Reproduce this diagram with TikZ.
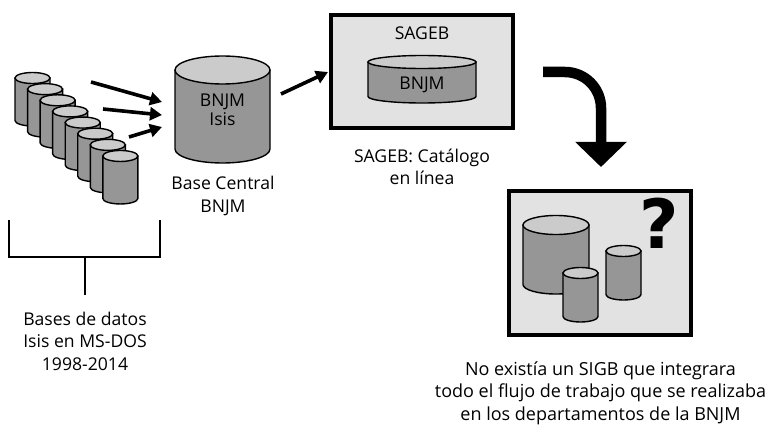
\documentclass[tikz,border=0pt]{standalone}
\usepackage{fontspec}
\setmainfont{Open Sans}
\newfontfamily\heavyfont{DejaVu Sans}[BoldFont={DejaVu Sans Bold}]
\usepackage{tikz}
\usetikzlibrary{arrows.meta}
\definecolor{CylBody}{HTML}{969696}
\definecolor{CylTop}{HTML}{CBCBCB}
\definecolor{BoxGray}{HTML}{E2E2E2}
% #1 gauche, #2 droite, #3 centre de l'ellipse du haut, #4 bas, #5 rayon vertical
\newcommand{\dbcyl}[5]{%
  \draw[cylline, fill=CylBody] (#1,#3) -- (#1,#4-#5) arc[start angle=180, end angle=360, x radius={(#2-#1)/2}, y radius=-#5] -- (#2,#3) -- cycle;
  \draw[cylline, fill=CylTop] ({(#1+#2)/2},#3) ellipse[x radius={(#2-#1)/2}, y radius=#5];
}
\begin{document}
\begin{tikzpicture}[x=1pt, y=-1pt,
    cylline/.style={draw=black, line width=1.4pt},
    framebox/.style={draw=black, line width=4pt, fill=BoxGray},
    txt/.style={font=\fontsize{17.6}{22.5}\selectfont, align=center, text=black, inner sep=0pt},
    feedarrow/.style={line width=3.6pt, -{Triangle[width=13pt, length=12pt]}},
    bracketline/.style={line width=1.3pt}]
  \useasboundingbox (0,0) rectangle (768,425);

  % Bases pequenas
  \foreach \i in {0,...,7} {
    \pgfmathsetmacro{\xl}{15+12.55*\i}
    \pgfmathsetmacro{\xr}{\xl+35}
    \pgfmathsetmacro{\yt}{78+11.14*\i}
    \pgfmathsetmacro{\yb}{\yt+48}
    \dbcyl{\xl}{\xr}{\yt}{\yb}{5.5}
  }

  % Base central
  \dbcyl{175}{270}{70}{163}{14}
  \node[txt, font=\fontsize{17.6}{19.5}\selectfont] (central) at (222.5,110) {BNJM\\Isis};
  \node[txt] (centrallabel) at (223,196) {Base Central\\BNJM};

  % Flechas hacia la base central
  \coordinate (from1) at (91,82);
  \coordinate (to1) at (162,102);
  \coordinate (from2) at (103,109);
  \coordinate (to2) at (162,115);
  \coordinate (from3) at (129,137);
  \coordinate (to3) at (162,127);
  \coordinate (from4) at (281,94);
  \coordinate (to4) at (328,72);
  \draw[feedarrow] (from1) -- (to1);
  \draw[feedarrow] (from2) -- (to2);
  \draw[feedarrow] (from3) -- (to3);
  \draw[feedarrow] (from4) -- (to4);

  % SAGEB
  \draw[framebox] (331,15) rectangle (513,128);
  \node[txt] (sageb) at (422,33) {SAGEB};
  \dbcyl{368}{476}{62}{103}{6.5}
  \node[txt] (bnjm) at (422,85) {BNJM};
  \node[txt] (sageblabel) at (422,167) {SAGEB: Catálogo\\en línea};

  % Flecha grande
  \coordinate (bendstart) at (543,72);
  \coordinate (bendcorner) at (601,72);
  \coordinate (bendend) at (601,167);
  \draw[line width=10.5pt, rounded corners=36pt, -{Triangle[width=50pt, length=25pt]}] (bendstart) -- (bendcorner) -- (bendend);

  % Caja inferior
  \draw[framebox] (509,191) rectangle (691,335);
  \dbcyl{523}{589}{225}{294}{9.5}
  \dbcyl{563}{598}{273}{322}{5.5}
  \dbcyl{606}{641}{251}{300}{5.5}
  \node[inner sep=0pt, font=\heavyfont\fontsize{68}{68}\selectfont\bfseries] (question) at (659.5,223) {?};
  \node[txt, font=\fontsize{18}{22.5}\selectfont] (bottomlabel) at (600.5,393) {No existía un SIGB que integrara\\todo el flujo de trabajo que se realizaba\\en los departamentos de la BNJM};

  % Llave de las bases
  \coordinate (bracketl) at (9,220);
  \coordinate (bracketr) at (160,220);
  \coordinate (bracketmid) at (85,257);
  \coordinate (bracketend) at (85,295);
  \draw[bracketline] (bracketl) |- (bracketmid) -| (bracketr);
  \draw[bracketline] (bracketmid) -- (bracketend);
  \node[txt] (baseslabel) at (85,341) {Bases de datos\\Isis en MS-DOS\\1998-2014};
\end{tikzpicture}
\end{document}
